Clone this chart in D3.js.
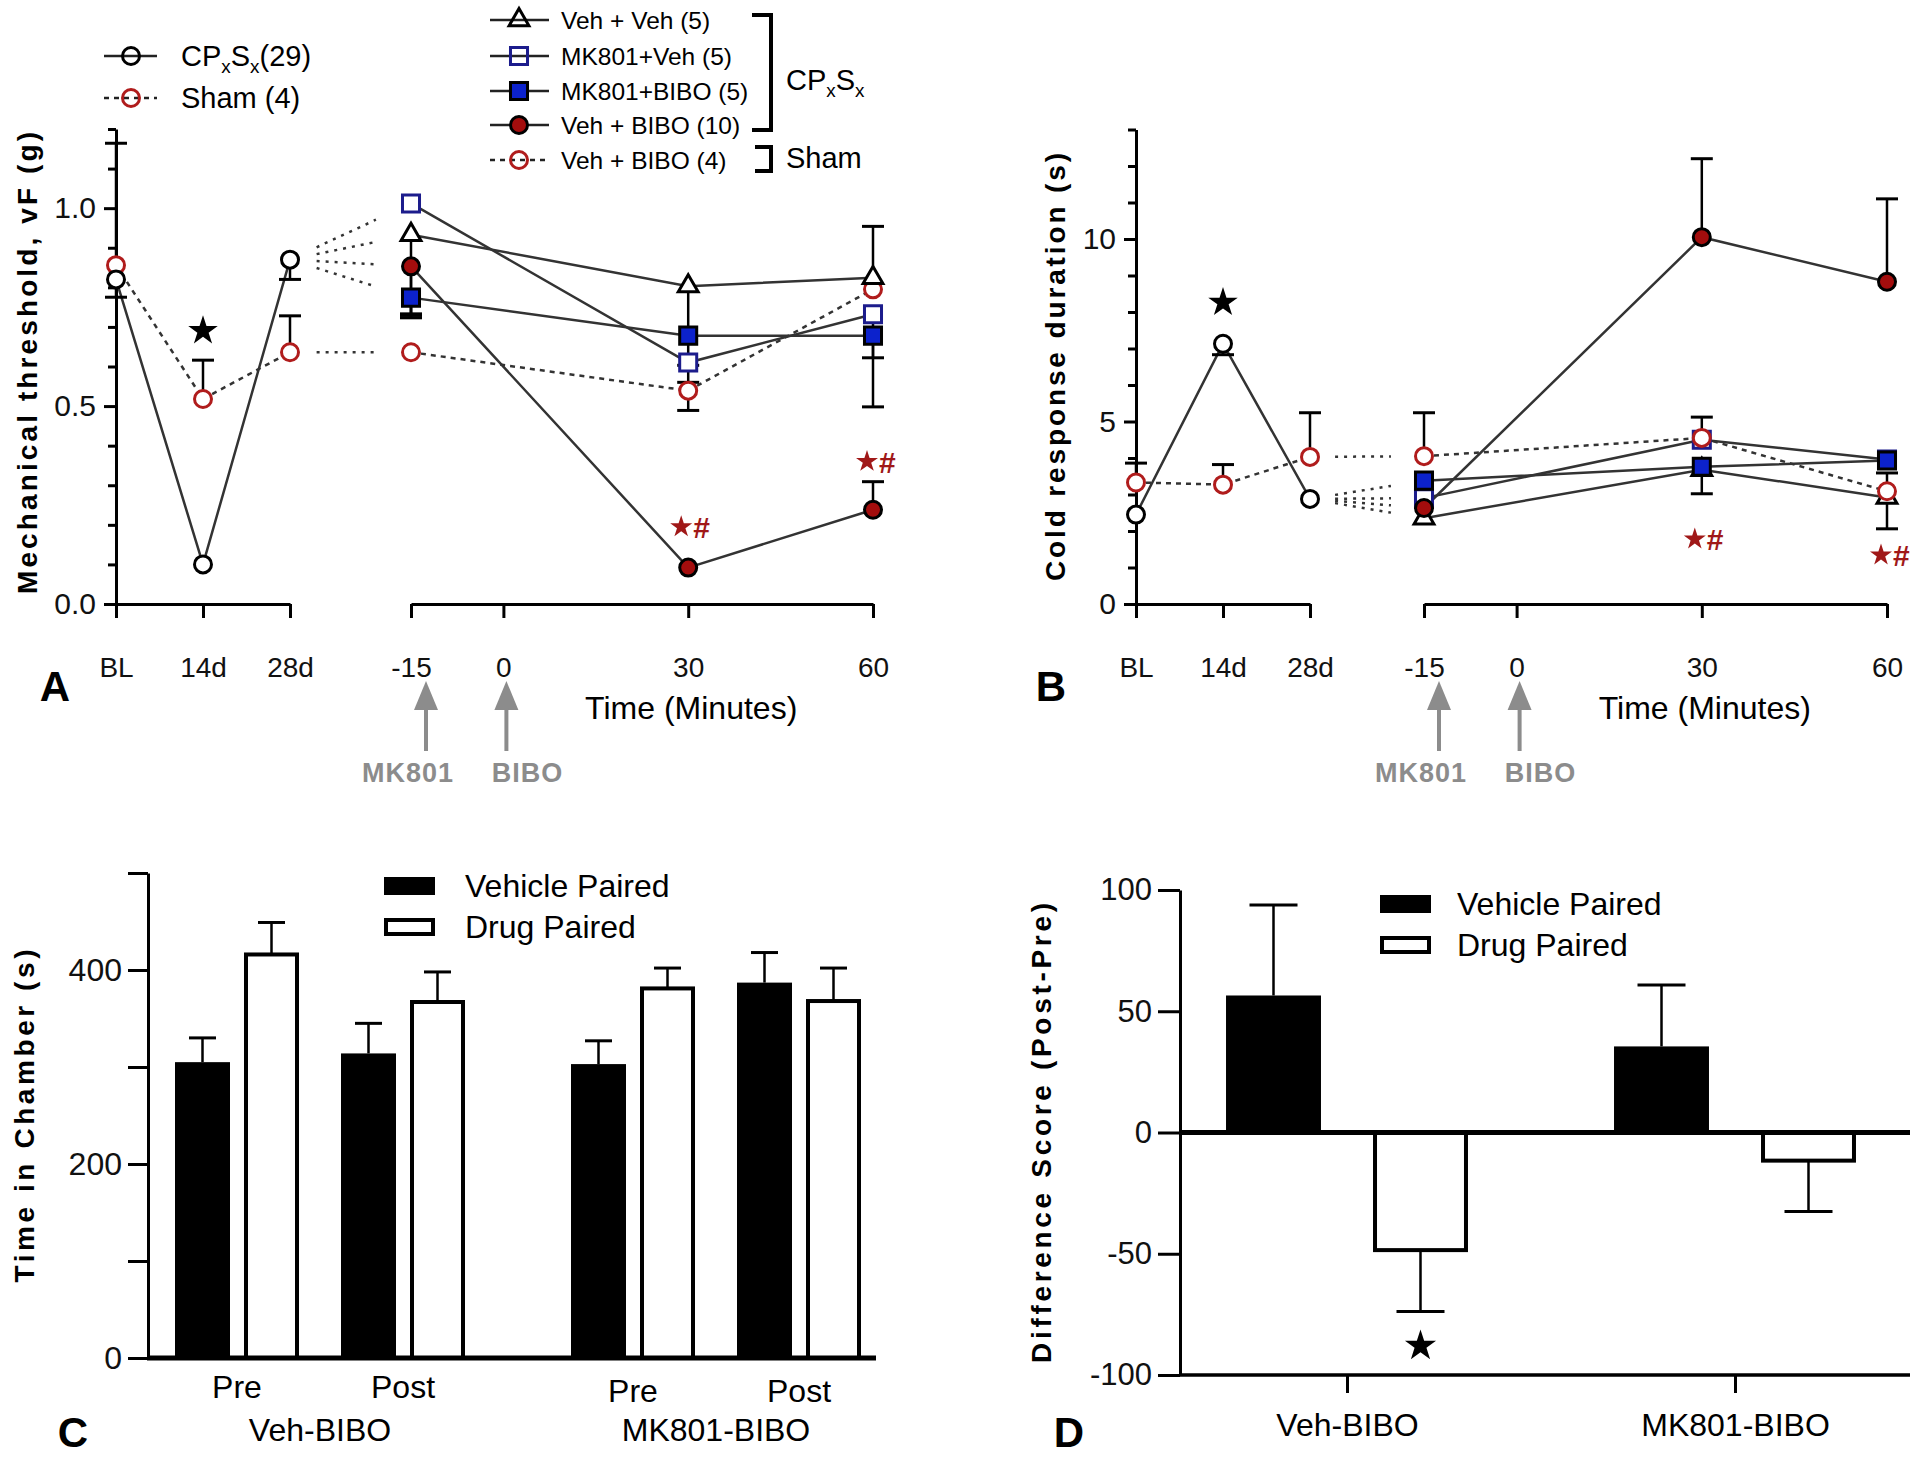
<!DOCTYPE html>
<html><head><meta charset="utf-8">
<script src="https://cdn.jsdelivr.net/npm/d3@7"></script>
<style>body{margin:0;background:#fff}svg{display:block}</style>
</head><body>
<script>
// ================= DATA =================
const preTimes = ["BL", "14d", "28d"];
const postTicks = [-15, 0, 30, 60];
const postTimes = [-15, 30, 60];

// Panel A: mechanical threshold (g); errors signed (+ up, - down)
const cpA = [0.82, 0.10, 0.87];
const cpAErr = [-0.045, 0, -0.05];
const shamA = [0.856, 0.518, 0.636];
const shamAErr = [0.308, 0.098, 0.092];
const vehVehA = [0.933, 0.803, 0.824];
const vehVehAErr = [-0.21, -0.2, 0.13];
const mk801VehA = [1.012, 0.61, 0.732];
const mk801VehAErr = [0, -0.05, -0.11];
const mk801BiboA = [0.774, 0.678, 0.678];
const mk801BiboAErr = [-0.045, 0, -0.18];
const vehBiboA = [0.853, 0.092, 0.238];
const vehBiboAErr = [-0.12, 0, 0.071];
const shamBiboA = [0.636, 0.539, 0.795];
const shamBiboAErr = [0, -0.05, 0];
const starA = 0.69;          // at 14d
const sigA = [0.195, 0.36];  // "★#" at 30, 60
const yTicksA = [0, 0.5, 1.0];

// Panel B: cold response duration (s)
const cpB = [2.45, 7.13, 2.88];
const cpBErr = [0, -0.3, 0];
const shamB = [3.33, 3.27, 4.03];
const shamBErr = [0.53, 0.55, 1.21];
const vehVehB = [2.35, 3.68, 2.92];
const vehVehBErr = [0, -0.66, -0.86];
const mk801VehB = [2.9, 4.5, 3.96];
const mk801VehBErr = [0, 0.62, 0];
const mk801BiboB = [3.38, 3.76, 3.93];
const mk801BiboBErr = [0, 0, 0];
const vehBiboB = [2.63, 10.05, 8.83];
const vehBiboBErr = [0, 2.15, 2.27];
const shamBiboB = [4.05, 4.55, 3.09];
const shamBiboBErr = [1.19, 0, 0.5];
const starB = 8.26;
const sigB = [1.78, 1.34];
const yTicksB = [0, 5, 10];

// Legend labels
const leftLegend = ["(29)", "Sham (4)"];
const groupLabels = ["Veh + Veh (5)", "MK801+Veh (5)", "MK801+BIBO (5)", "Veh + BIBO (10)", "Veh + BIBO (4)"];

// Panel C: time in chamber (s)
const groupsC = ["Veh-BIBO", "MK801-BIBO"];
const phasesC = ["Pre", "Post"];
const seriesNames = ["Vehicle Paired", "Drug Paired"];
const vehicleC = [305, 314, 303, 387];   // VehBIBO Pre, Post, MK801BIBO Pre, Post
const vehicleCErr = [25, 31, 24, 31];
const drugC = [416, 367, 381, 368];
const drugCErr = [33, 31, 21, 34];
const yTicksC = [0, 100, 200, 300, 400, 500];

// Panel D: difference score (Post-Pre)
const groupsD = ["Veh-BIBO", "MK801-BIBO"];
const vehicleD = [56.5, 35.5];
const vehicleDErr = [37.3, 25.3];
const drugD = [-48.5, -11.6];
const drugDErr = [-25.3, -21];
const starD = -88;
const yTicksD = [-100, -50, 0, 50, 100];

// ================= STYLES =================
const FONT = "'Liberation Sans', Arial, sans-serif";
const RED = "#b01c1c";
const hyphen = f => d => f(d).replace("\u2212", "-");
const styles = {
  cp:        {shape: "circle",   stroke: "#000",   fill: "#fff",    dash: null},
  sham:      {shape: "circle",   stroke: RED,      fill: "#fff",    dash: "5,5"},
  vehVeh:    {shape: "triangle", stroke: "#000",   fill: "#fff",    dash: null},
  mk801Veh:  {shape: "square",   stroke: "#1c1c8c",fill: "#fff",    dash: null},
  mk801Bibo: {shape: "square",   stroke: "#000",   fill: "#0c22cc", dash: null},
  vehBibo:   {shape: "circle",   stroke: "#000",   fill: "#a30d0d", dash: null},
  shamBibo:  {shape: "circle",   stroke: RED,      fill: "#fff",    dash: "5,5"}
};

const svg = d3.select("body").append("svg")
  .attr("width", 1920).attr("height", 1460)
  .style("font-family", FONT);
svg.append("rect").attr("width", 1920).attr("height", 1460).attr("fill", "#fff");

function marker(g, st, x, y, legend) {
  let el;
  if (st.shape === "circle") {
    el = g.append("circle").attr("cx", x).attr("cy", y).attr("r", 8.5);
  } else {
    const type = st.shape === "square" ? d3.symbolSquare : d3.symbolTriangle;
    const size = st.shape === "square" ? 290 : 170;
    el = g.append("path").attr("d", d3.symbol(type, size)()).attr("transform", `translate(${x},${y})`);
  }
  el.attr("fill", legend && st.fill === "#fff" ? "none" : st.fill)
    .attr("stroke", st.stroke).attr("stroke-width", 3);
}

function errBar(g, x, y, v, e, cap) {
  if (!e) return;
  g.append("line").attr("x1", x).attr("x2", x).attr("y1", y(v)).attr("y2", y(v + e))
    .attr("stroke", "#000").attr("stroke-width", 2.5);
  g.append("line").attr("x1", x - cap / 2).attr("x2", x + cap / 2).attr("y1", y(v + e)).attr("y2", y(v + e))
    .attr("stroke", "#000").attr("stroke-width", 3);
}

function styleAxis(ax, size) {
  ax.selectAll("path, line").attr("stroke", "#000").attr("stroke-width", 3);
  ax.selectAll("text").attr("font-size", size).attr("fill", "#111").style("font-family", FONT);
}

function yLabel(x, cy, txt, len) {
  svg.append("text").attr("transform", `translate(${x},${cy}) rotate(-90)`)
    .attr("text-anchor", "middle").attr("dy", "0.35em")
    .attr("font-size", 28).attr("font-weight", "bold")
    .attr("textLength", len).attr("lengthAdjust", "spacing")
    .text(txt);
}

function panelLetter(x, y, t) {
  svg.append("text").attr("x", x).attr("y", y).attr("text-anchor", "middle")
    .attr("font-size", 42).attr("font-weight", "bold").text(t);
}

function star(g, x, y, size, color) {
  g.append("path").attr("d", d3.symbol(d3.symbolStar, size)())
    .attr("transform", `translate(${x},${y})`).attr("fill", color);
}

function sig(g, x, y) {
  star(g, x - 10, y, 150, "#a01818");
  g.append("text").attr("x", x + 2).attr("y", y + 11).attr("font-size", 30)
    .attr("font-weight", "bold").attr("fill", "#a01818").text("#");
}

function cpText(g, x, y, size, suffix) {
  const t = g.append("text").attr("x", x).attr("y", y).attr("font-size", size);
  t.append("tspan").text("CP");
  t.append("tspan").attr("font-size", size * 0.65).attr("dy", size * 0.25).text("x");
  t.append("tspan").attr("dy", -size * 0.25).text("S");
  t.append("tspan").attr("font-size", size * 0.65).attr("dy", size * 0.25).text("x");
  if (suffix) t.append("tspan").attr("dy", -size * 0.25).text(suffix);
}

// ================= LINE PANELS =================
function linePanel(cfg) {
  const g = svg.append("g");
  const {y, xPre, xPost} = cfg;
  const y0 = y.range()[0];
  const axX = xPre(preTimes[0]);

  const ay = g.append("g").attr("transform", `translate(${axX},0)`)
    .call(d3.axisLeft(y).tickValues(cfg.yTicks).tickFormat(cfg.fmt).tickSize(12).tickSizeOuter(0).tickPadding(8));
  styleAxis(ay, 30);
  const am = g.append("g").attr("transform", `translate(${axX},0)`)
    .call(d3.axisLeft(y).tickValues(cfg.minor).tickFormat("").tickSize(8).tickSizeOuter(0));
  am.select(".domain").remove();
  styleAxis(am, 30);

  const ax1 = g.append("g").attr("transform", `translate(0,${y0})`)
    .call(d3.axisBottom(xPre).tickSize(14).tickSizeOuter(0).tickPadding(39));
  styleAxis(ax1, 28);
  const ax2 = g.append("g").attr("transform", `translate(0,${y0})`)
    .call(d3.axisBottom(xPost).tickValues(postTicks).tickFormat(hyphen(d3.format("d")))
      .tickSize(14).tickSizeOuter(0).tickPadding(39));
  styleAxis(ax2, 28);

  const t0 = 0.22, t1 = 0.71;
  const xa = xPre("28d"), xb = xPost(-15);
  function conn(v0, v1) {
    const ya = y(v0), yb = y(v1);
    g.append("line")
      .attr("x1", xa + (xb - xa) * t0).attr("y1", ya + (yb - ya) * t0)
      .attr("x2", xa + (xb - xa) * t1).attr("y2", ya + (yb - ya) * t1)
      .attr("stroke", "#333").attr("stroke-width", 2.5).attr("stroke-dasharray", "3,6");
  }
  cfg.groups.forEach(s => conn(s.key === "shamBibo" ? cfg.sham[2] : cfg.cp[2], s.vals[0]));

  const line = d3.line();
  function path(pts, st) {
    g.append("path").attr("d", line(pts)).attr("fill", "none")
      .attr("stroke", "#333").attr("stroke-width", 2.5)
      .attr("stroke-dasharray", st.dash);
  }
  path(preTimes.map((t, i) => [xPre(t), y(cfg.cp[i])]), styles.cp);
  path(preTimes.map((t, i) => [xPre(t), y(cfg.sham[i])]), styles.sham);
  cfg.groups.forEach(s => path(postTimes.map((t, i) => [xPost(t), y(s.vals[i])]), styles[s.key]));

  preTimes.forEach((t, i) => {
    errBar(g, xPre(t), y, cfg.cp[i], cfg.cpErr[i], 22);
    errBar(g, xPre(t), y, cfg.sham[i], cfg.shamErr[i], 22);
  });
  cfg.groups.forEach(s => postTimes.forEach((t, i) => errBar(g, xPost(t), y, s.vals[i], s.errs[i], 22)));

  preTimes.forEach((t, i) => {
    marker(g, styles.sham, xPre(t), y(cfg.sham[i]));
    marker(g, styles.cp, xPre(t), y(cfg.cp[i]));
  });
  cfg.groups.forEach(s => postTimes.forEach((t, i) => marker(g, styles[s.key], xPost(t), y(s.vals[i]))));

  star(g, xPre("14d"), y(cfg.star), 270, "#000");
  sig(g, xPost(30) + 3, y(cfg.sig[0]));
  sig(g, xPost(60) + 4, y(cfg.sig[1]));

  const gray = "#8c8c8c";
  [[-15, 15, "MK801", -3], [0, 3, "BIBO", 24]].forEach(([t, off, lab, loff]) => {
    const x = xPost(t) + off;
    g.append("path").attr("d", `M${x},681 L${x - 12},710 L${x + 12},710 Z`).attr("fill", gray);
    g.append("line").attr("x1", x).attr("x2", x).attr("y1", 708).attr("y2", 751)
      .attr("stroke", gray).attr("stroke-width", 4);
    g.append("text").attr("x", xPost(t) + loff).attr("y", 782).attr("text-anchor", "middle")
      .attr("font-size", 27).attr("font-weight", "bold").attr("fill", gray)
      .attr("letter-spacing", 1).text(lab);
  });
  g.append("text").attr("x", xPost(30) + 3).attr("y", 719).attr("text-anchor", "middle")
    .attr("font-size", 32).text("Time (Minutes)");
}

// Panel A
const yA = d3.scaleLinear().domain([0, 1.2]).range([604, 129]);
const xPreA = d3.scalePoint().domain(preTimes).range([116, 290]);
const xPostA = d3.scaleLinear().domain([-15, 60]).range([411, 873]);
linePanel({
  y: yA, xPre: xPreA, xPost: xPostA, yTicks: yTicksA, fmt: d3.format(".1f"),
  minor: d3.range(1, 13).map(d => d / 10).filter(d => d !== 0.5 && d !== 1),
  cp: cpA, cpErr: cpAErr, sham: shamA, shamErr: shamAErr, star: starA, sig: sigA,
  groups: [
    {key: "shamBibo", vals: shamBiboA, errs: shamBiboAErr},
    {key: "vehVeh", vals: vehVehA, errs: vehVehAErr},
    {key: "mk801Veh", vals: mk801VehA, errs: mk801VehAErr},
    {key: "vehBibo", vals: vehBiboA, errs: vehBiboAErr},
    {key: "mk801Bibo", vals: mk801BiboA, errs: mk801BiboAErr}
  ]
});
yLabel(27, 363, "Mechanical threshold, vF (g)", 462);
panelLetter(55, 701, "A");

// Panel B
const yB = d3.scaleLinear().domain([0, 13]).range([604, 129.5]);
const xPreB = d3.scalePoint().domain(preTimes).range([1136, 1310]);
const xPostB = d3.scaleLinear().domain([-15, 60]).range([1424, 1887]);
linePanel({
  y: yB, xPre: xPreB, xPost: xPostB, yTicks: yTicksB, fmt: d3.format("d"),
  minor: d3.range(1, 14).filter(d => d % 5 !== 0),
  cp: cpB, cpErr: cpBErr, sham: shamB, shamErr: shamBErr, star: starB, sig: sigB,
  groups: [
    {key: "vehVeh", vals: vehVehB, errs: vehVehBErr},
    {key: "mk801Veh", vals: mk801VehB, errs: mk801VehBErr},
    {key: "vehBibo", vals: vehBiboB, errs: vehBiboBErr},
    {key: "mk801Bibo", vals: mk801BiboB, errs: mk801BiboBErr},
    {key: "shamBibo", vals: shamBiboB, errs: shamBiboBErr}
  ]
});
yLabel(1055, 367, "Cold response duration (s)", 428);
panelLetter(1051, 701, "B");

// ===== Panel A legends =====
{
  const g = svg.append("g");
  const rowsL = [56, 98];
  [styles.cp, styles.sham].forEach((st, i) => {
    g.append("line").attr("x1", 104).attr("x2", 157).attr("y1", rowsL[i]).attr("y2", rowsL[i])
      .attr("stroke", "#222").attr("stroke-width", 2.5).attr("stroke-dasharray", st.dash);
    marker(g, st, 131, rowsL[i], true);
  });
  cpText(g, 181, rowsL[0] + 10, 29, leftLegend[0]);
  g.append("text").attr("x", 181).attr("y", rowsL[1] + 10).attr("font-size", 29).text(leftLegend[1]);

  const rowsR = [20, 56, 91, 125, 160];
  ["vehVeh", "mk801Veh", "mk801Bibo", "vehBibo", "shamBibo"].forEach((k, i) => {
    const st = styles[k];
    g.append("line").attr("x1", 490).attr("x2", 549).attr("y1", rowsR[i]).attr("y2", rowsR[i])
      .attr("stroke", "#222").attr("stroke-width", 2.5).attr("stroke-dasharray", st.dash);
    marker(g, st, 519, rowsR[i], true);
    g.append("text").attr("x", 561).attr("y", rowsR[i] + 9).attr("font-size", 24.5).text(groupLabels[i]);
  });
  g.append("path").attr("d", "M752,15 H771 V130 H752").attr("fill", "none").attr("stroke", "#000").attr("stroke-width", 4);
  g.append("path").attr("d", "M755,147 H771 V171 H755").attr("fill", "none").attr("stroke", "#000").attr("stroke-width", 4);
  cpText(g, 786, 90, 29);
  g.append("text").attr("x", 786).attr("y", 168).attr("font-size", 29).text("Sham");
}

// ================= BAR PANELS =================
function barLegend(g, x, rows, tx) {
  g.append("rect").attr("x", x).attr("y", rows[0] - 9).attr("width", 51).attr("height", 18).attr("fill", "#000");
  g.append("rect").attr("x", x + 2).attr("y", rows[1] - 7).attr("width", 47).attr("height", 14)
    .attr("fill", "#fff").attr("stroke", "#000").attr("stroke-width", 4);
  seriesNames.forEach((n, i) => g.append("text").attr("x", tx).attr("y", rows[i] + 11).attr("font-size", 32).text(n));
}

// Panel C
{
  const g = svg.append("g");
  const y = d3.scaleLinear().domain([0, 500]).range([1358, 873]);
  const xG = d3.scalePoint().domain(groupsC).range([320, 716]);
  const xP = d3.scalePoint().domain(phasesC).range([-83, 83]);
  const xS = d3.scaleBand().domain(seriesNames).range([-69, 69]).paddingInner(0.203).paddingOuter(0.1015);
  const ay = g.append("g").attr("transform", "translate(148,0)")
    .call(d3.axisLeft(y).tickValues(yTicksC).tickFormat(d => d % 200 === 0 ? d : "").tickSize(20).tickSizeOuter(0).tickPadding(6));
  styleAxis(ay, 32);
  const cells = [];
  groupsC.forEach((gr, gi) => phasesC.forEach((ph, pi) => cells.push({gr, ph, i: gi * 2 + pi})));
  cells.forEach(c => {
    const cx = xG(c.gr) + xP(c.ph);
    [[vehicleC, vehicleCErr, "#000"], [drugC, drugCErr, "#fff"]].forEach(([vals, errs, fill], si) => {
      const bx = cx + xS(seriesNames[si]);
      const bw = xS.bandwidth();
      errBar(g, bx + bw / 2, y, vals[c.i], errs[c.i], 27);
      g.append("rect").attr("x", fill === "#fff" ? bx + 2 : bx).attr("y", y(vals[c.i]))
        .attr("width", fill === "#fff" ? bw - 4 : bw).attr("height", y(0) - y(vals[c.i]))
        .attr("fill", fill).attr("stroke", fill === "#fff" ? "#000" : "none").attr("stroke-width", 4);
    });
    g.append("text").attr("x", cx).attr("y", c.gr === groupsC[0] ? 1398 : 1402)
      .attr("text-anchor", "middle").attr("font-size", 32).text(c.ph);
  });
  groupsC.forEach(gr => g.append("text").attr("x", xG(gr)).attr("y", 1441)
    .attr("text-anchor", "middle").attr("font-size", 32).text(gr));
  g.append("line").attr("x1", 147).attr("x2", 876).attr("y1", y(0)).attr("y2", y(0)).attr("stroke", "#000").attr("stroke-width", 5);
  barLegend(g, 384, [886, 927], 465);
  yLabel(24, 1116, "Time in Chamber (s)", 333);
  panelLetter(73, 1447, "C");
}

// Panel D
{
  const g = svg.append("g");
  const y = d3.scaleLinear().domain([-100, 100]).range([1375, 890]);
  const xG = d3.scalePoint().domain(groupsD).range([1347, 1735]);
  const xS = d3.scaleBand().domain(seriesNames).range([-147, 147]).paddingInner(0.354).paddingOuter(0.177);
  const ay = g.append("g").attr("transform", "translate(1180,0)")
    .call(d3.axisLeft(y).tickValues(yTicksD).tickFormat(hyphen(d3.format("d"))).tickSize(22).tickSizeOuter(0).tickPadding(6));
  styleAxis(ay, 31);
  const ax = g.append("g").attr("transform", `translate(0,${y(-100)})`)
    .call(d3.axisBottom(xG).tickSize(18).tickSizeOuter(0).tickPadding(20));
  ax.select(".domain").remove();
  styleAxis(ax, 32);
  ax.selectAll("text").attr("fill", "#000");
  g.append("line").attr("x1", 1180).attr("x2", 1910).attr("y1", y(-100)).attr("y2", y(-100)).attr("stroke", "#000").attr("stroke-width", 3.5);
  groupsD.forEach((gr, gi) => {
    [[vehicleD, vehicleDErr, "#000"], [drugD, drugDErr, "#fff"]].forEach(([vals, errs, fill], si) => {
      const bx = xG(gr) + xS(seriesNames[si]);
      const bw = xS.bandwidth();
      const v = vals[gi];
      errBar(g, bx + bw / 2, y, v, errs[gi], 48);
      g.append("rect").attr("x", fill === "#fff" ? bx + 2 : bx).attr("y", y(Math.max(v, 0)))
        .attr("width", fill === "#fff" ? bw - 4 : bw).attr("height", Math.abs(y(v) - y(0)))
        .attr("fill", fill).attr("stroke", fill === "#fff" ? "#000" : "none").attr("stroke-width", 4);
    });
  });
  g.append("line").attr("x1", 1180).attr("x2", 1910).attr("y1", y(0)).attr("y2", y(0)).attr("stroke", "#000").attr("stroke-width", 5);
  star(g, xG(groupsD[0]) + xS(seriesNames[1]) + xS.bandwidth() / 2, y(starD), 300, "#000");
  barLegend(g, 1380, [904, 945], 1457);
  yLabel(1041, 1133, "Difference Score (Post-Pre)", 460);
  panelLetter(1069, 1447, "D");
}
</script>
</body></html>
